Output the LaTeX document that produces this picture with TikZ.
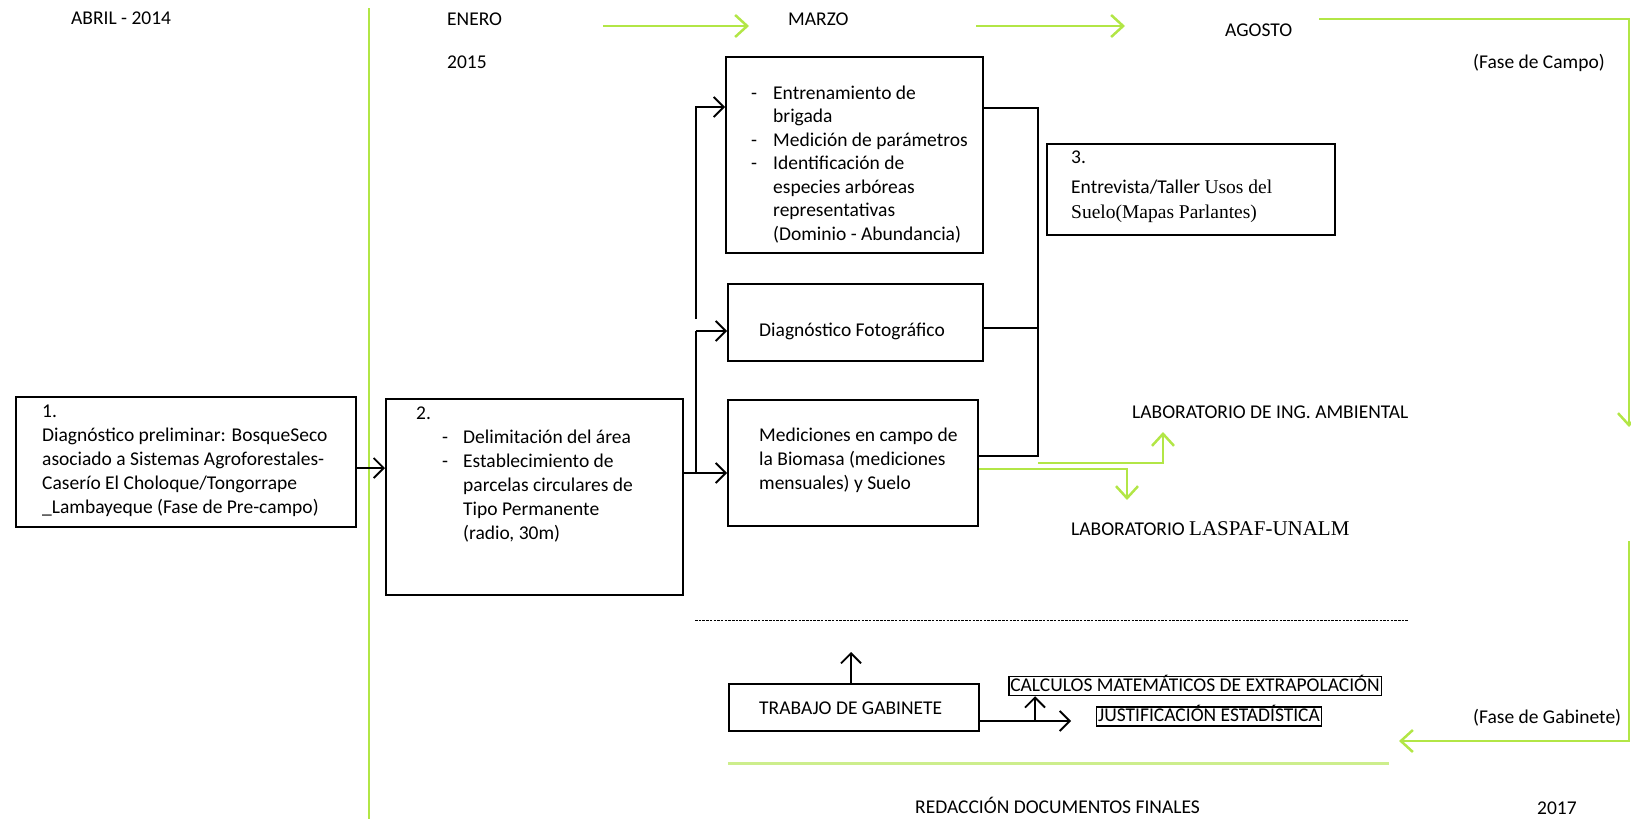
\documentclass[tikz,border=0pt]{standalone}
\usepackage{fontspec}
\setmainfont{Carlito}
\newfontfamily\timesf{Liberation Serif}
\usetikzlibrary{arrows.meta}
\definecolor{lgreen}{RGB}{178,230,70}
\definecolor{pgreen}{RGB}{205,238,140}
\begin{document}
\begin{tikzpicture}[x=1pt,y=-1pt,
  box/.style={draw=black, line width=1.8pt, inner sep=0pt, anchor=north west},
  tbox/.style={draw=black, line width=1.5pt, inner xsep=1.5pt, inner ysep=1.5pt, text height=13pt, text depth=3pt, font=\fontsize{19.5}{24}\selectfont},
  txt/.style={inner sep=0pt, anchor=base west, align=left, font=\fontsize{19.5}{24}\selectfont},
  lbl/.style={inner sep=0pt, anchor=west, font=\fontsize{19.5}{24}\selectfont},
  conn/.style={draw=black, line width=1.8pt},
  tip/.style={-{Straight Barb[length=10pt,width=20pt]}},
  gtip/.style={-{Straight Barb[length=12pt,width=22pt]}},
  gline/.style={draw=lgreen, line width=2.5pt},
]
\useasboundingbox (0,0) rectangle (1631,819);

% ---- headings ----
\node[lbl] (abril) at (71,18) {ABRIL - 2014};
\node[lbl] (enero) at (447,19) {ENERO};
\node[lbl] (y2015) at (447,62) {2015};
\node[lbl] (marzo) at (788,19) {MARZO};
\node[lbl] (agosto) at (1225,30) {AGOSTO};
\node[lbl] (fcampo) at (1473,63) {(Fase de Campo)};
\node[lbl] (fgab) at (1473,718) {(Fase de Gabinete)};
\node[lbl] (y2017) at (1537,808) {2017};
\node[lbl] (redac) at (915,805) {REDACCIÓN DOCUMENTOS FINALES};

% ---- boxes ----
\node[box, minimum width=340pt, minimum height=130pt] (b1) at (15,396) {};
\node[box, minimum width=297pt, minimum height=196pt] (b2) at (385,398) {};
\node[box, minimum width=257pt, minimum height=196pt] (bE) at (725,56) {};
\node[box, minimum width=255pt, minimum height=77pt] (bD) at (727,283) {};
\node[box, minimum width=250pt, minimum height=126pt] (bM) at (727,399) {};
\node[box, minimum width=288pt, minimum height=91pt] (b3) at (1046,143) {};
\node[box, minimum width=250pt, minimum height=47pt] (bT) at (728,683) {};
\node[tbox] (bC) at (1195,686) {CALCULOS MATEMÁTICOS DE EXTRAPOLACIÓN};
\node[tbox] (bJ) at (1209,716.5) {JUSTIFICACIÓN ESTADÍSTICA};

% ---- box texts (anchor = baseline of the last line) ----
\node[txt] (t1) at (42,513) {1.\\Diagnóstico preliminar: BosqueSeco\\asociado a Sistemas Agroforestales-\\Caserío El Choloque/Tongorrape\\\_Lambayeque (Fase de Pre-campo)};
\node[txt] (t2) at (416,539) {2.\\
\hspace*{26pt}\makebox[21pt][l]{-}Delimitación del área\\
\hspace*{26pt}\makebox[21pt][l]{-}Establecimiento de\\
\hspace*{47pt}parcelas circulares de\\
\hspace*{47pt}Tipo Permanente\\
\hspace*{47pt}(radio, 30m)};
\node[txt, font=\fontsize{19.5}{23.5}\selectfont] (tE) at (751,240) {\makebox[22pt][l]{-}Entrenamiento de\\
\hspace*{22pt}brigada\\
\makebox[22pt][l]{-}Medición de parámetros\\
\makebox[22pt][l]{-}Identificación de\\
\hspace*{22pt}especies arbóreas\\
\hspace*{22pt}representativas\\
\hspace*{22pt}(Dominio - Abundancia)};
\node[lbl] (tD) at (759,331) {Diagnóstico Fotográfico};
\node[txt] (tM) at (759,489) {Mediciones en campo de\\la Biomasa (mediciones\\mensuales) y Suelo};
\node[txt] (t3a) at (1071,163) {3.};
\node[txt, font=\fontsize{19.5}{25}\selectfont] (t3b) at (1071,218) {Entrevista/Taller {\timesf Usos del}\\{\timesf Suelo(Mapas Parlantes)}};
\node[lbl] (tT) at (759,708) {TRABAJO DE GABINETE};
\node[lbl] (labA) at (1132,412) {LABORATORIO DE ING. AMBIENTAL};
\node[lbl] (labL) at (1071,529) {LABORATORIO {\timesf\fontsize{21}{24}\selectfont LASPAF-UNALM}};

% ---- coordinates ----
\coordinate (j1) at (370,468);
\coordinate (j2) at (696,473);
\coordinate (jD) at (696,331);
\coordinate (jEb) at (696,319);
\coordinate (jE) at (696,107);
\coordinate (r1) at (1038,108);
\coordinate (r2) at (1038,328);
\coordinate (r3) at (1038,456);
\coordinate (gA) at (1127,469);
\coordinate (gAe) at (1127,500);
\coordinate (gB0) at (1038,463);
\coordinate (gB) at (1163,463);
\coordinate (gBe) at (1163,432);
\coordinate (tU) at (851,652);
\coordinate (tR) at (1071,721);
\coordinate (tB) at (1035,721);
% green timeline coordinates
\coordinate (gv1) at (369,8);
\coordinate (gv2) at (369,819);
\coordinate (ga1s) at (603,26);
\coordinate (ga1e) at (749,26);
\coordinate (ga2s) at (976,26);
\coordinate (ga2e) at (1125,26);
\coordinate (gr0) at (1319,19);
\coordinate (gr1) at (1629,19);
\coordinate (gr2) at (1629,427);
\coordinate (gr3) at (1629,541);
\coordinate (gr4) at (1629,741);
\coordinate (gr5) at (1399,741);
\coordinate (gbl) at (728,763);
\coordinate (gbr) at (1389,763);
\coordinate (dl) at (695,620);
\coordinate (dr) at (1409,620);

% ---- green timeline ----
\draw[gline] (gv1) -- (gv2);
\draw[gline,gtip] (ga1s) -- (ga1e);
\draw[gline,gtip] (ga2s) -- (ga2e);
\draw[gline,gtip] (gr0) -- (gr1) -- (gr2);
\draw[gline,gtip] (gr3) -- (gr4) -- (gr5);
\draw[draw=pgreen, line width=3pt] (gbl) -- (gbr);
\draw[black, line width=0.9pt, dash pattern=on 2.5pt off 1.2pt] (dl) -- (dr);

% ---- black connectors ----
\draw[conn,tip] (b1.east |- j1) -- (b2.west |- j1);
\draw[conn] (b2.east |- j2) -- (j2) -- (jD);
\draw[conn,tip] (j2) -- (bM.west |- j2);
\draw[conn,tip] (jD) -- (bD.west |- jD);
\draw[conn,tip] (jEb) -- (jE) -- (bE.west |- jE);
\draw[conn] (bE.east |- r1) -- (r1) -- (r3) -- (bM.east |- r3);
\draw[conn] (bD.east |- r2) -- (r2);

% ---- green lab arrows ----
\draw[gline,gtip] (bM.east |- gA) -- (gA) -- (gAe);
\draw[gline,gtip] (gB0) -- (gB) -- (gBe);

% ---- gabinete arrows ----
\draw[conn,tip] (bT.north -| tU) -- (tU);
\draw[conn,tip] (bT.east |- tR) -- (tR);
\draw[conn,tip] (tB) -- (bC.south -| tB);
\end{tikzpicture}
\end{document}
